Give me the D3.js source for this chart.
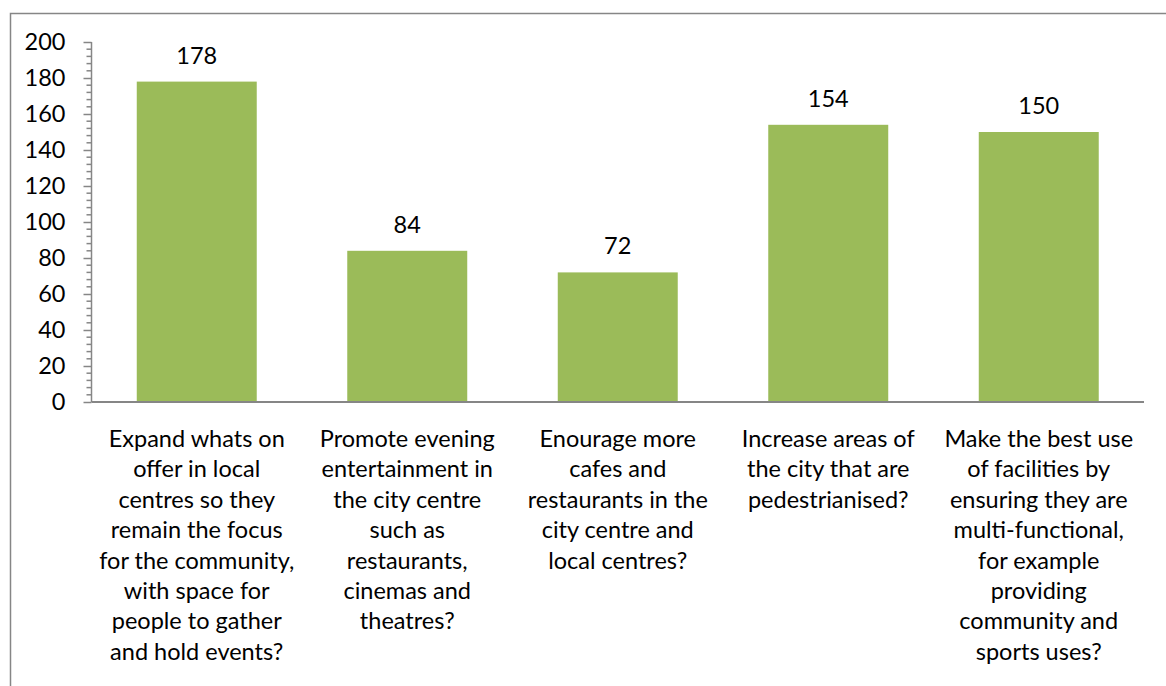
<!DOCTYPE html>
<html>
<head>
<meta charset="utf-8">
<script src="https://cdn.jsdelivr.net/npm/d3@7"></script>
<style>
  body { margin: 0; background: #fff; }
  text { font-family: Lato, "Open Sans", sans-serif; fill: #000; }
</style>
</head>
<body>
<svg id="chart"></svg>
<script>
// data
const categories = ["expand", "promote", "encourage", "increase", "make"];
const values = [178, 84, 72, 154, 150];
const labelLines = [
  ["Expand whats on", "offer in local", "centres so they", "remain the focus", "for the community,", "with space for", "people to gather", "and hold events?"],
  ["Promote evening", "entertainment in", "the city centre", "such as", "restaurants,", "cinemas and", "theatres?"],
  ["Enourage more", "cafes and", "restaurants in the", "city centre and", "local centres?"],
  ["Increase areas of", "the city that are", "pedestrianised?"],
  ["Make the best use", "of facilities by", "ensuring they are", "multi-functional,", "for example", "providing", "community and", "sports uses?"]
];
const yTicks = [0, 20, 40, 60, 80, 100, 120, 140, 160, 180, 200];

// constants
const width = 1166;
const height = 686;
const margin = { left: 91.5, right: 22, top: 42, bottom: 284 };
const fontSize = 23.5;
const axisColor = "#868686";
const barColor = "#9BBB59";

const svg = d3.select('#chart')
  .attr('width', width)
  .attr('height', height);

// chart area border (runs off the right and bottom edges)
svg.append('rect')
  .attr('x', 10.5)
  .attr('y', 13.5)
  .attr('width', 1200)
  .attr('height', 700)
  .attr('fill', 'none')
  .attr('stroke', axisColor)
  .attr('stroke-width', 1.5);

const x = d3.scaleBand()
  .domain(categories)
  .range([margin.left, width - margin.right])
  .paddingInner(0.43)
  .paddingOuter(0.215);

const y = d3.scaleLinear()
  .domain([0, 200])
  .range([height - margin.bottom, margin.top]);

// bars
svg.selectAll('.bar')
  .data(values)
  .enter().append('rect')
  .attr('class', 'bar')
  .attr('x', (d, i) => x(categories[i]))
  .attr('y', d => y(d))
  .attr('width', x.bandwidth())
  .attr('height', d => y(0) - y(d))
  .attr('fill', barColor);

// value labels
svg.selectAll('.value')
  .data(values)
  .enter().append('text')
  .attr('class', 'value')
  .attr('x', (d, i) => x(categories[i]) + x.bandwidth() / 2)
  .attr('y', d => y(d) - 18)
  .attr('text-anchor', 'middle')
  .style('font-size', fontSize + 'px')
  .text(d => d);

// y axis with minor ticks every 4
const minorTicks = d3.range(0, 201, 4).filter(v => v % 20 !== 0);
const yAxisG = svg.append('g')
  .attr('transform', 'translate(' + margin.left + ',0)');
yAxisG.call(d3.axisLeft(y).tickValues(yTicks).tickSize(8).tickPadding(18));
yAxisG.selectAll('.minor')
  .data(minorTicks)
  .enter().append('line')
  .attr('class', 'minor')
  .attr('x1', -5).attr('x2', 0)
  .attr('y1', d => y(d)).attr('y2', d => y(d));
yAxisG.select('.domain').attr('stroke', axisColor).attr('stroke-width', 1.5)
  .attr('d', 'M0,' + y(200) + 'V' + y(0));
yAxisG.selectAll('line').attr('stroke', axisColor).attr('stroke-width', 1.5);
yAxisG.selectAll('text')
  .style('font-size', fontSize + 'px')
  .attr('fill', '#000');
yAxisG.attr('font-family', null).attr('font-size', null);

// x axis line
svg.append('line')
  .attr('x1', margin.left)
  .attr('x2', width - margin.right)
  .attr('y1', y(0))
  .attr('y2', y(0))
  .attr('stroke', axisColor)
  .attr('stroke-width', 2);

// category labels (wrapped lines)
const lineHeight = 30.4;
svg.selectAll('.cat')
  .data(labelLines)
  .enter().append('text')
  .attr('class', 'cat')
  .attr('text-anchor', 'middle')
  .style('font-size', fontSize + 'px')
  .each(function(lines, i) {
    const cx = x(categories[i]) + x.bandwidth() / 2;
    d3.select(this).selectAll('tspan')
      .data(lines)
      .enter().append('tspan')
      .attr('x', cx)
      .attr('y', (d, j) => 447 + j * lineHeight)
      .text(d => d);
  });
</script>
</body>
</html>
